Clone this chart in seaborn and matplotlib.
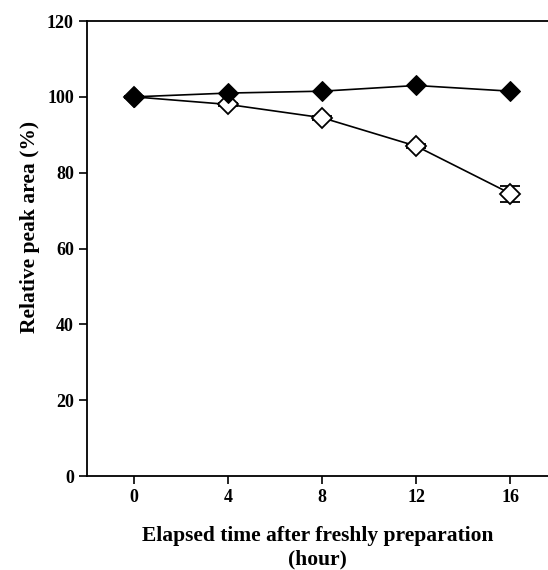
import pandas as pd
import matplotlib
matplotlib.use("Agg")
import matplotlib.pyplot as plt
import seaborn as sns

# dados
horas = [0, 4, 8, 12, 16]
fresco = [100, 101, 101.5, 103, 101.5]
armazenado = [100, 98, 94.5, 87, 74.5]
erro_armazenado = [0.3, 0.5, 0.5, 0.6, 2.1]

sns.set_style("ticks")
plt.rcParams['font.family'] = ['Liberation Serif', 'DejaVu Serif']
plt.rcParams['font.weight'] = 'bold'
plt.rcParams['text.color'] = 'black'
plt.rcParams['axes.labelcolor'] = 'black'

df = pd.DataFrame({'hora': horas, 'fresco': fresco, 'armazenado': armazenado})

fig = plt.figure(figsize=(5.48, 5.70), dpi=100)
ax = fig.add_axes([0.1588, 0.1649, 0.8412, 0.7982])

ax.errorbar(horas, armazenado, yerr=erro_armazenado, fmt='none',
            ecolor='black', elinewidth=1, capsize=7, capthick=1.3, zorder=2)
sns.lineplot(data=df, x='hora', y='armazenado', ax=ax, color='black', lw=1.2,
             marker='D', markersize=10, markerfacecolor='white',
             markeredgecolor='black', markeredgewidth=1.3, zorder=3)
sns.lineplot(data=df, x='hora', y='fresco', ax=ax, color='black', lw=1.2,
             marker='D', markersize=10.5, markerfacecolor='black',
             markeredgecolor='black', zorder=4)

ax.set_xlim(-2, 17.6)
ax.set_ylim(0, 120)
ax.set_xticks(horas)
ax.set_yticks(range(0, 121, 20))
ax.tick_params(direction='out', length=6, width=1.2, labelsize=13,
               colors='black', labelcolor='black')
for s in ['left', 'bottom', 'top']:
    ax.spines[s].set_linewidth(1.3)
    ax.spines[s].set_color('black')
ax.spines['right'].set_visible(False)

ax.set_xlabel('Elapsed time after freshly preparation\n(hour)', fontsize=15.5,
              fontweight='bold', labelpad=14, linespacing=1.25, color='black')
ax.set_ylabel('Relative peak area (%)', fontsize=15.5, fontweight='bold', color='black')
ax.yaxis.set_label_coords(-0.101, 0.547)

fig.savefig('out.png', dpi=100)
